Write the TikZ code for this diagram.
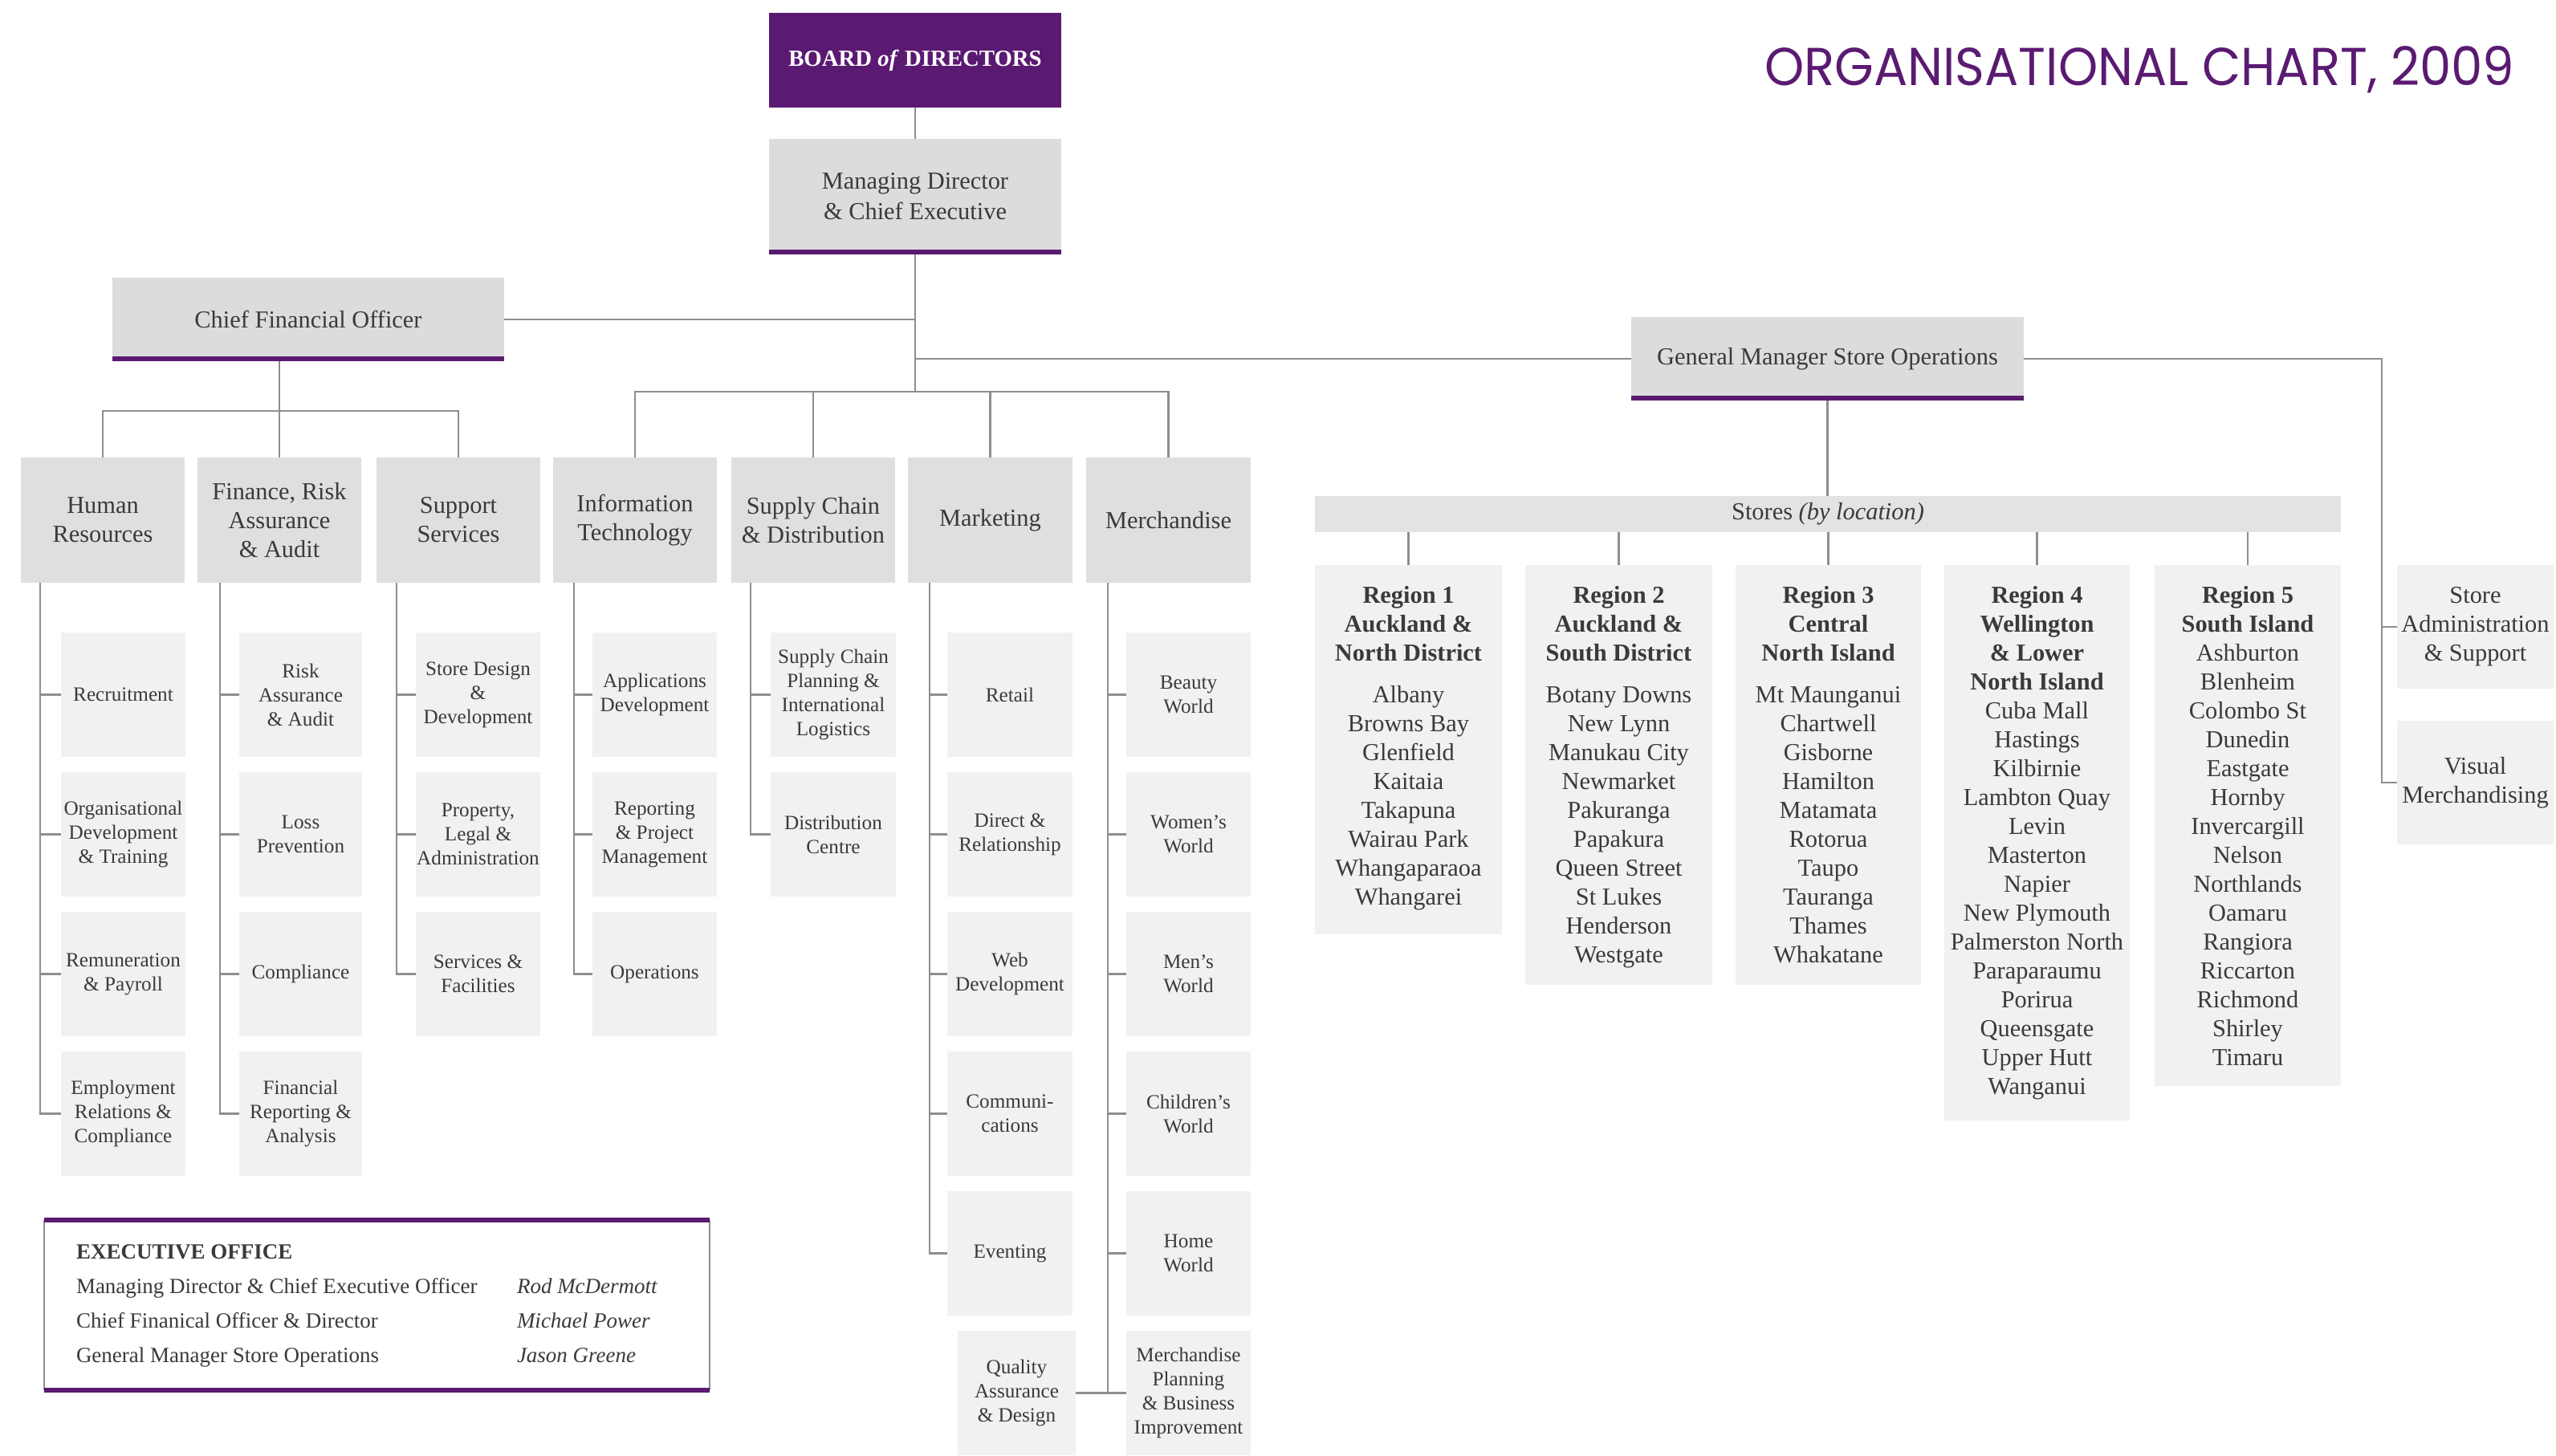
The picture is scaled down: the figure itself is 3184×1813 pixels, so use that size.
\documentclass[tikz,border=0pt]{standalone}
\usepackage{fontspec}
\usepackage{graphicx}
\setmainfont{Liberation Serif}
\newfontfamily\titlefont{Poppins}
\definecolor{purp}{HTML}{5B1A72}
\definecolor{txt}{HTML}{3A3A3A}
\definecolor{ln}{HTML}{8E8E8E}
\definecolor{hdr}{HTML}{DFDFDF}
\definecolor{topc}{HTML}{DCDCDD}
\definecolor{sub}{HTML}{F1F1F1}
\definecolor{barc}{HTML}{E3E3E3}
% box by corners: [opts]{name}{x1}{y1}{x2}{y2}{text}
\newcommand\bx[7][]{\node[box,#1,minimum width={(#5-#3)*0.25pt},minimum height={(#6-#4)*0.25pt}] (#2) at ({(#3+#5)/2},{(#4+#6)/2}) {#7};}
% sub box: {name}{x1}{x2}{row}{text}
\newcommand\sbx[5]{\node[subbox,minimum width={(#3-#2)*0.25pt},minimum height=38.75pt] (#1) at ({(#2+#3)/2},{788+(#4-1)*174+77.5}) {#5};}
\begin{document}
\begin{tikzpicture}[x=0.25pt,y=-0.25pt,
  box/.style={inner sep=0pt,outer sep=0pt,align=center,text=txt},
  hdrbox/.style={box,fill=hdr,font=\fontsize{7.6pt}{9pt}\selectfont},
  subbox/.style={box,fill=sub,font=\fontsize{6.3pt}{7.5pt}\selectfont},
  regtxt/.style={box,font=\fontsize{7.6pt}{9pt}\selectfont},
  exectxt/.style={box,font=\fontsize{6.75pt}{8pt}\selectfont},
  conn/.style={draw=ln,line width=0.6pt},
  purpline/.style={draw=purp,line width=1.4pt}]
\useasboundingbox (0,0) rectangle (3184,1813);
\fill[white] (0,0) rectangle (3184,1813);

% title
\node[anchor=base east,text=purp,inner sep=0pt] (title) at (3133,106) {\resizebox{233.5pt}{12.25pt}{\titlefont ORGANISATIONAL CHART, 2009}};

% top boxes
\bx[hdrbox,fill=purp,text=white,font=\fontsize{7.2pt}{9pt}\selectfont\bfseries]{board}{958}{16}{1322}{134}{BOARD \textit{of} DIRECTORS}
\bx[hdrbox,fill=topc,font=\fontsize{7.6pt}{9.5pt}\selectfont]{md}{958}{173}{1322}{317}{Managing Director\\\& Chief Executive}
\bx[hdrbox,fill=topc]{cfo}{140}{346}{628}{450}{Chief Financial Officer}
\bx[hdrbox,fill=topc]{gm}{2032}{395}{2521}{499}{General Manager Store Operations}
\draw[purpline] ([yshift=0.7pt]md.south west) -- ([yshift=0.7pt]md.south east);
\draw[purpline] ([yshift=0.7pt]cfo.south west) -- ([yshift=0.7pt]cfo.south east);
\draw[purpline] ([yshift=0.7pt]gm.south west) -- ([yshift=0.7pt]gm.south east);

% departments
\bx[hdrbox]{hr}{26}{570}{230}{726}{Human\\Resources}
\bx[hdrbox]{fin}{246}{570}{450}{726}{Finance, Risk\\Assurance\\\& Audit}
\bx[hdrbox]{sup}{469}{570}{673}{726}{Support\\Services}
\bx[hdrbox]{it}{689}{570}{893}{726}{Information\\Technology}
\bx[hdrbox]{sc}{911}{570}{1115}{726}{Supply Chain\\\& Distribution}
\bx[hdrbox]{mkt}{1131}{570}{1336}{726}{Marketing}
\bx[hdrbox]{mer}{1353}{570}{1558}{726}{Merchandise}

% top connectors
\coordinate (dbar) at (0,488);
\coordinate (cbar) at (0,512);
\draw[conn] (board.south) -- (md.north);
\draw[conn] (md.south) -- (md.south |- dbar);
\draw[conn] (cfo.east) -- (cfo.east -| md.south);
\draw[conn] (md.south |- gm.west) -- (gm.west);
\draw[conn] (it.north) -- (it.north |- dbar) -- (mer.north |- dbar) -- (mer.north);
\draw[conn] (sc.north) -- (sc.north |- dbar);
\draw[conn] (mkt.north) -- (mkt.north |- dbar);
\draw[conn] (cfo.south -| fin.north) -- (fin.north);
\draw[conn] (hr.north) -- (hr.north |- cbar) -- (sup.north |- cbar) -- (sup.north);

% sub boxes
\sbx{hr1}{76}{231}{1}{Recruitment}
\sbx{hr2}{76}{231}{2}{Organisational\\Development\\\& Training}
\sbx{hr3}{76}{231}{3}{Remuneration\\\& Payroll}
\sbx{hr4}{76}{231}{4}{Employment\\Relations \&\\Compliance}
\sbx{fin1}{298}{451}{1}{Risk\\Assurance\\\& Audit}
\sbx{fin2}{298}{451}{2}{Loss\\Prevention}
\sbx{fin3}{298}{451}{3}{Compliance}
\sbx{fin4}{298}{451}{4}{Financial\\Reporting \&\\Analysis}
\sbx{sup1}{518}{673}{1}{Store Design\\\&\\Development}
\sbx{sup2}{518}{673}{2}{Property,\\Legal \&\\Administration}
\sbx{sup3}{518}{673}{3}{Services \&\\Facilities}
\sbx{it1}{738}{893}{1}{Applications\\Development}
\sbx{it2}{738}{893}{2}{Reporting\\\& Project\\Management}
\sbx{it3}{738}{893}{3}{Operations}
\sbx{sc1}{960}{1116}{1}{Supply Chain\\Planning \&\\International\\Logistics}
\sbx{sc2}{960}{1116}{2}{Distribution\\Centre}
\sbx{mk1}{1180}{1336}{1}{Retail}
\sbx{mk2}{1180}{1336}{2}{Direct \&\\Relationship}
\sbx{mk3}{1180}{1336}{3}{Web\\Development}
\sbx{mk4}{1180}{1336}{4}{Communi-\\cations}
\sbx{mk5}{1180}{1336}{5}{Eventing}
\sbx{qa}{1193}{1340}{6}{Quality\\Assurance\\\& Design}
\sbx{me1}{1403}{1558}{1}{Beauty\\World}
\sbx{me2}{1403}{1558}{2}{Women’s\\World}
\sbx{me3}{1403}{1558}{3}{Men’s\\World}
\sbx{me4}{1403}{1558}{4}{Children’s\\World}
\sbx{me5}{1403}{1558}{5}{Home\\World}
\sbx{mp}{1403}{1558}{6}{Merchandise\\Planning\\\& Business\\Improvement}

% sub connectors
\coordinate (hrL) at (50,726);
\draw[conn] (hrL) |- (hr4.west);
\foreach \i in {1,2,3} \draw[conn] (hrL |- hr\i.west) -- (hr\i.west);
\coordinate (finL) at (274,726);
\draw[conn] (finL) |- (fin4.west);
\foreach \i in {1,2,3} \draw[conn] (finL |- fin\i.west) -- (fin\i.west);
\coordinate (supL) at (494,726);
\draw[conn] (supL) |- (sup3.west);
\foreach \i in {1,2} \draw[conn] (supL |- sup\i.west) -- (sup\i.west);
\coordinate (itL) at (715,726);
\draw[conn] (itL) |- (it3.west);
\foreach \i in {1,2} \draw[conn] (itL |- it\i.west) -- (it\i.west);
\coordinate (scL) at (935,726);
\draw[conn] (scL) |- (sc2.west);
\draw[conn] (scL |- sc1.west) -- (sc1.west);
\coordinate (mkL) at (1158,726);
\draw[conn] (mkL) |- (mk5.west);
\foreach \i in {1,2,3,4} \draw[conn] (mkL |- mk\i.west) -- (mk\i.west);
\coordinate (meL) at (1380,726);
\draw[conn] (meL) |- (mp.west);
\foreach \i in {1,2,3,4,5} \draw[conn] (meL |- me\i.west) -- (me\i.west);
\draw[conn] (qa.east) -- (meL |- qa.east);

% stores
\bx[hdrbox,fill=barc]{stores}{1638}{618}{2916}{663}{Stores \textit{(by location)}}
\bx[fill=sub]{r1}{1638}{704}{1871}{1164}{}
\bx[fill=sub]{r2}{1900}{704}{2133}{1227}{}
\bx[fill=sub]{r3}{2162}{704}{2393}{1227}{}
\bx[fill=sub]{r4}{2422}{704}{2653}{1396}{}
\bx[fill=sub]{r5}{2684}{704}{2916}{1353}{}
\node[regtxt,anchor=north] (r1t) at ([yshift=-6.5pt]r1.north) {\textbf{Region 1}\\\textbf{Auckland \&}\\\textbf{North District}\\[4pt]Albany\\Browns Bay\\Glenfield\\Kaitaia\\Takapuna\\Wairau Park\\Whangaparaoa\\Whangarei};
\node[regtxt,anchor=north] (r2t) at ([yshift=-6.5pt]r2.north) {\textbf{Region 2}\\\textbf{Auckland \&}\\\textbf{South District}\\[4pt]Botany Downs\\New Lynn\\Manukau City\\Newmarket\\Pakuranga\\Papakura\\Queen Street\\St Lukes\\Henderson\\Westgate};
\node[regtxt,anchor=north] (r3t) at ([yshift=-6.5pt]r3.north) {\textbf{Region 3}\\\textbf{Central}\\\textbf{North Island}\\[4pt]Mt Maunganui\\Chartwell\\Gisborne\\Hamilton\\Matamata\\Rotorua\\Taupo\\Tauranga\\Thames\\Whakatane};
\node[regtxt,anchor=north] (r4t) at ([yshift=-6.5pt]r4.north) {\textbf{Region 4}\\\textbf{Wellington}\\\textbf{\& Lower}\\\textbf{North Island}\\Cuba Mall\\Hastings\\Kilbirnie\\Lambton Quay\\Levin\\Masterton\\Napier\\New Plymouth\\Palmerston North\\Paraparaumu\\Porirua\\Queensgate\\Upper Hutt\\Wanganui};
\node[regtxt,anchor=north] (r5t) at ([yshift=-6.5pt]r5.north) {\textbf{Region 5}\\\textbf{South Island}\\Ashburton\\Blenheim\\Colombo St\\Dunedin\\Eastgate\\Hornby\\Invercargill\\Nelson\\Northlands\\Oamaru\\Rangiora\\Riccarton\\Richmond\\Shirley\\Timaru};
\draw[conn] (gm.south) -- (gm.south |- stores.north);
\foreach \r in {r1,r2,r3,r4,r5} \draw[conn] (\r.north) -- (\r.north |- stores.south);

\bx[hdrbox,fill=sub]{sa}{2986}{704}{3181}{858}{Store\\Administration\\\& Support}
\bx[hdrbox,fill=sub]{vm}{2986}{898}{3181}{1052}{Visual\\Merchandising}
\coordinate (rl) at (2967,0);
\draw[conn] (gm.east) -- (gm.east -| rl) -- (rl |- vm.west) -- (vm.west);
\draw[conn] (rl |- sa.west) -- (sa.west);

% executive office
\bx{exec}{55}{1520}{884}{1732}{}
\draw[draw=ln,line width=0.5pt] (exec.north west) -- (exec.south west);
\draw[draw=ln,line width=0.5pt] (exec.north east) -- (exec.south east);
\draw[purpline] (exec.north west) -- (exec.north east);
\draw[purpline] (exec.south west) -- (exec.south east);
\node[exectxt,anchor=base west] (e0) at (95,1568) {\bfseries EXECUTIVE OFFICE};
\node[exectxt,anchor=base west] (e1) at (95,1611) {Managing Director \& Chief Executive Officer};
\node[exectxt,anchor=base west] (e2) at (95,1654) {Chief Finanical Officer \& Director};
\node[exectxt,anchor=base west] (e3) at (95,1697) {General Manager Store Operations};
\node[exectxt,anchor=base west] (n1) at (644,1611) {\itshape Rod McDermott};
\node[exectxt,anchor=base west] (n2) at (644,1654) {\itshape Michael Power};
\node[exectxt,anchor=base west] (n3) at (644,1697) {\itshape Jason Greene};
\end{tikzpicture}
\end{document}
